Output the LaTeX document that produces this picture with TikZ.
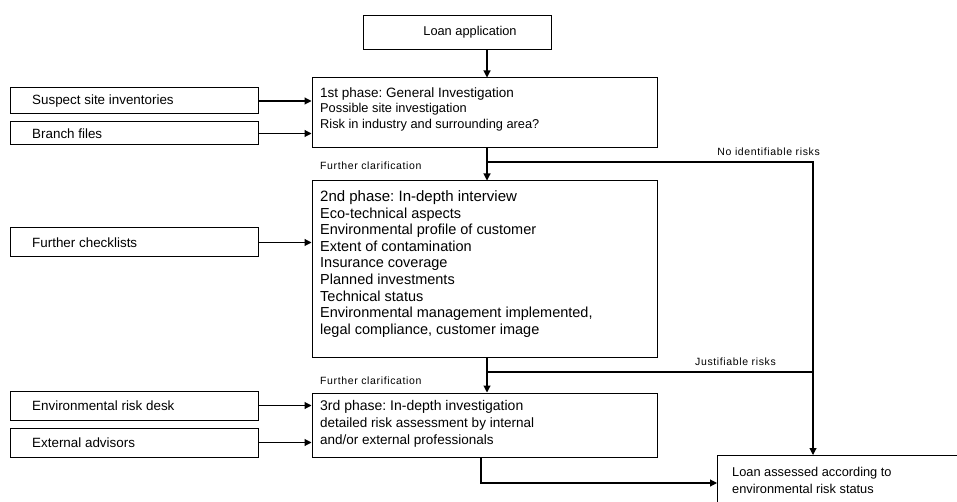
\documentclass[tikz,border=0pt]{standalone}
\usepackage{fontspec}
\setmainfont{Liberation Sans}
\usetikzlibrary{arrows.meta,calc}
\frenchspacing
\begin{document}
\begin{tikzpicture}[x=1pt,y=-1pt,
  box/.style={draw=black,line width=1pt,inner sep=0pt},
  boxtext/.style={anchor=west,inner sep=0pt,align=left},
  srctext/.style={anchor=west,inner sep=0pt,font=\fontsize{13.4}{15}\selectfont},
  small/.style={inner sep=0pt,font=\fontsize{10.5}{12}\selectfont\addfontfeature{LetterSpace=6}},
  conn/.style={line width=1.1pt},
  arr/.style={conn,-{Triangle[length=7pt,width=7pt]}}]
\useasboundingbox (0,0) rectangle (957,502);

% main column
\node[box,minimum width=188pt,minimum height=34pt,anchor=north west] (loan) at (363,15) {};
\node[inner sep=0pt,font=\fontsize{12.8}{15}\selectfont] at (470,32) {Loan application};

\node[box,minimum width=345pt,minimum height=70pt] (p1) at (484.5,113) {};
\node[boxtext,font=\fontsize{12.8}{15.5}\selectfont] (p1t) at (320,109) {{\fontsize{13.5}{15.5}\selectfont 1st phase: General Investigation}\\
Possible site investigation\\
Risk in industry and surrounding area?};

\node[box,minimum width=345pt,minimum height=176pt] (p2) at (484.5,269) {};
\node[boxtext,font=\fontsize{14.5}{16.6}\selectfont] (p2t) at (320,264) {{\fontsize{15}{16.6}\selectfont 2nd phase: In-depth interview}\\
Eco-technical aspects\\
Environmental profile of customer\\
Extent of contamination\\
Insurance coverage\\
Planned investments\\
Technical status\\
Environmental management implemented,\\
legal compliance, customer image};

\node[box,minimum width=345pt,minimum height=64pt] (p3) at (484.5,425) {};
\node[boxtext,font=\fontsize{13.5}{16.8}\selectfont] (p3t) at (320,424) {{\fontsize{14}{16.8}\selectfont 3rd phase: In-depth investigation}\\
detailed risk assessment by internal\\
and/or external professionals};

% sources on the left
\tikzset{src/.style={box,minimum width=248pt,anchor=west}}
\node[src,minimum height=26pt] (suspect) at (10,101) {};
\node[srctext] at (32,101) {Suspect site inventories};
\node[src,minimum height=23pt] (branch) at (10,133.5) {};
\node[srctext] at (32,133.5) {Branch files};
\node[src,minimum height=29pt] (check) at (10,242.5) {};
\node[srctext] at (32,242.5) {Further checklists};
\node[src,minimum height=29pt] (desk) at (10,405.5) {};
\node[srctext] at (32,405.5) {Environmental risk desk};
\node[src,minimum height=29pt] (advis) at (10,442.5) {};
\node[srctext] at (32,442.5) {External advisors};

% outcome
\node[box,anchor=north west,minimum width=260pt,minimum height=70pt] (done) at (717,455) {};
\node[boxtext,anchor=north west,font=\fontsize{12.8}{17.5}\selectfont] at (732,467) {Loan assessed according to\\environmental risk status};

% routing points
\coordinate (sx) at (487,0);
\coordinate (rx) at (813,0);
\coordinate (j1) at (487,162);
\coordinate (j2) at (487,372);
\coordinate (p3x) at (481,0);
\coordinate (low) at (0,483);

% connectors
\draw[arr] (loan.south -| sx) -- (p1.north -| sx);
\draw[arr] (suspect.east) -- (suspect.east -| p1.west);
\draw[arr] (branch.east) -- (branch.east -| p1.west);
\draw[arr] (p1.south -| sx) -- (p2.north -| sx);
\draw[arr] (j1) -- (j1 -| rx) -- (done.north -| rx);
\draw[arr] (check.east) -- (check.east -| p2.west);
\draw[arr] (p2.south -| sx) -- (p3.north -| sx);
\draw[conn] (j2) -- (j2 -| rx);
\draw[arr] (desk.east) -- (desk.east -| p3.west);
\draw[arr] (advis.east) -- (advis.east -| p3.west);
\draw[arr] (p3.south -| p3x) -- (low -| p3x) -- (low -| done.west);

% path labels
\node[small,anchor=west] at (320,166) {Further clarification};
\node[small,anchor=east] at (820,152) {No identifiable risks};
\node[small,anchor=west] at (320,381) {Further clarification};
\node[small,anchor=east] at (776,362) {Justifiable risks};
\end{tikzpicture}
\end{document}
